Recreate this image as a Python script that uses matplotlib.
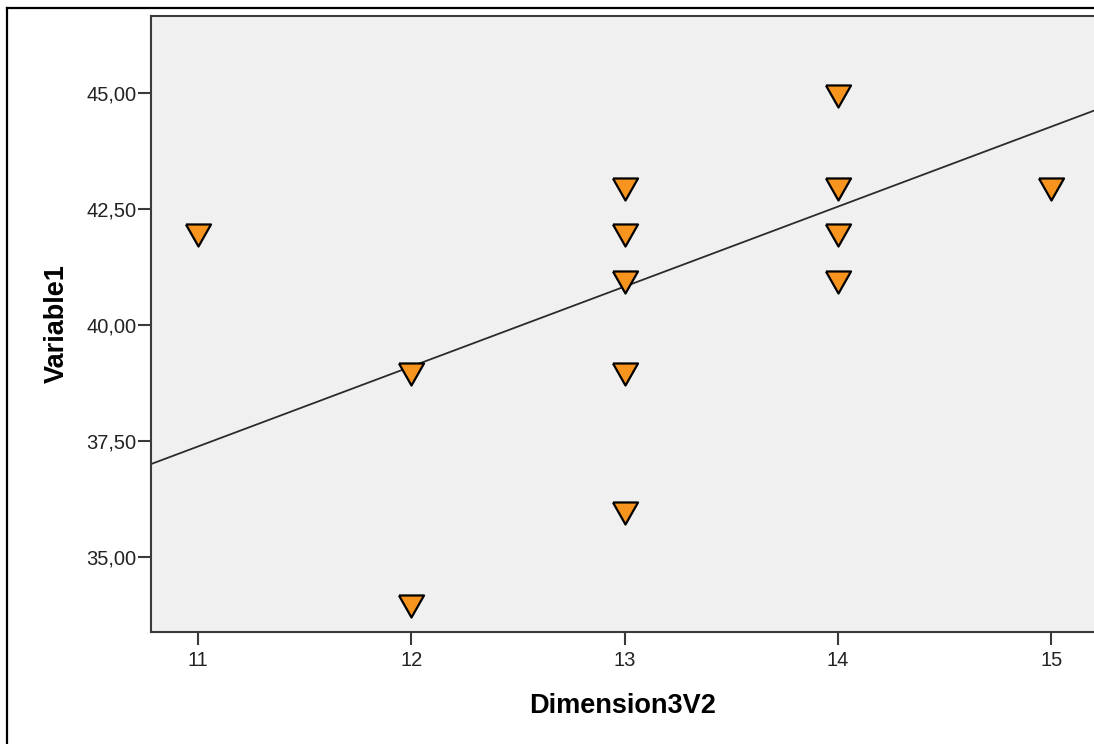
import numpy as np
import matplotlib
matplotlib.use("Agg")
import matplotlib.pyplot as plt
from matplotlib.lines import Line2D

# data
dim3v2 = [11, 12, 12, 13, 13, 13, 13, 13, 14, 14, 14, 14, 15]
variable1 = [42, 39, 34, 43, 42, 41, 39, 36, 45, 43, 42, 41, 43]

# fit line as drawn (end points)
fit_x = [10.78, 15.2]
fit_y = [37.0, 44.62]

xticks = [11, 12, 13, 14, 15]
yticks = [35, 37.5, 40, 42.5, 45]
ytick_labels = ["35,00", "37,50", "40,00", "42,50", "45,00"]

W, H = 1094, 744
fig = plt.figure(figsize=(W / 100, H / 100), dpi=100)
plt.rcParams['font.family'] = ['Liberation Sans', 'DejaVu Sans']

# outer frame (cut at right and bottom)
fig.add_artist(Line2D([7 / W, 7 / W], [0, 1 - 8 / H], transform=fig.transFigure,
                      color='black', lw=1.6))
fig.add_artist(Line2D([7 / W, 1], [1 - 8 / H, 1 - 8 / H], transform=fig.transFigure,
                      color='black', lw=1.6))

left, right = 151 / W, 1.0
bottom, top = (H - 632) / H, (H - 16) / H
ax = fig.add_axes([left, bottom, right - left, top - bottom])
ax.set_facecolor('#F0F0F0')

ax.plot(fit_x, fit_y, color='#2b2b2b', lw=1.3, zorder=2)

tri = [(-1, 0.64), (1, 0.64), (0, -1.12), (-1, 0.64)]
ax.scatter(dim3v2, variable1, marker=tri, s=(20.2) ** 2, facecolor='#F7941E',
           edgecolor='black', linewidths=1.6, zorder=3)

ax.set_xlim(10.78, 15.2)
ax.set_ylim(33.38, 46.66)
ax.set_xticks(xticks)
ax.set_xticklabels([str(t) for t in xticks])
ax.set_yticks(yticks)
ax.set_yticklabels(ytick_labels)

for s in ['left', 'bottom', 'top']:
    ax.spines[s].set_color('#3a3a3a')
    ax.spines[s].set_linewidth(1.5)
ax.spines['right'].set_visible(False)

ax.tick_params(axis='both', direction='out', length=9.5, width=1.5,
               color='#3a3a3a', labelsize=14.5, labelcolor='#222222')
ax.tick_params(axis='x', pad=4)
ax.tick_params(axis='y', pad=1)

ax.set_xlabel('Dimension3V2', fontsize=19.5, fontweight='bold', labelpad=17)
ax.set_ylabel('Variable1', fontsize=19.5, fontweight='bold', labelpad=12)

fig.savefig('out.png', dpi=100)
